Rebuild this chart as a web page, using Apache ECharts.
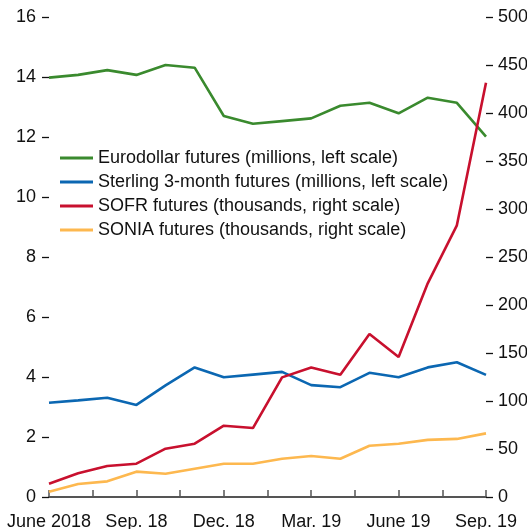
<!DOCTYPE html>
<html>
<head>
<meta charset="utf-8">
<script src="https://cdn.jsdelivr.net/npm/echarts@6/dist/echarts.min.js"></script>
<style>
  html, body { margin: 0; padding: 0; background: #fff; }
  #chart { width: 527px; height: 529px; }
</style>
</head>
<body>
<div id="chart"></div>
<script>
// Monthly observations, June 2018 – Sep. 2019
const months = ['2018-06','2018-07','2018-08','2018-09','2018-10','2018-11','2018-12',
                '2019-01','2019-02','2019-03','2019-04','2019-05','2019-06','2019-07','2019-08','2019-09'];
const tickLabels = ['June 2018', 'Sep. 18', 'Dec. 18', 'Mar. 19', 'June 19', 'Sep. 19'];

// Left scale (millions)
const eurodollar = [13.98, 14.07, 14.23, 14.07, 14.40, 14.31, 12.70, 12.44, 12.53, 12.62, 13.04, 13.14, 12.79, 13.31, 13.14, 12.01];
const sterling   = [3.14, 3.22, 3.31, 3.07, 3.72, 4.32, 3.99, 4.08, 4.17, 3.73, 3.66, 4.14, 3.99, 4.32, 4.49, 4.07];
// Right scale (thousands)
const sofr  = [13.8, 24.7, 32.3, 34.7, 50.3, 55.5, 74.3, 71.8, 124.6, 135.0, 127.4, 169.8, 145.8, 222.6, 283.0, 431.6];
const sonia = [5.5, 13.5, 16.3, 26.4, 24.3, 29.5, 34.7, 34.7, 39.9, 42.7, 39.9, 53.4, 55.5, 59.5, 60.5, 66.3];

const FONT = '"Liberation Sans Narrow", "Arial Narrow", "Liberation Sans", Arial, sans-serif';
const FS = 18;
const pairs = arr => arr.map((v, i) => [i, v]);

const chart = echarts.init(document.getElementById('chart'), null, { renderer: 'canvas' });

function line(name, data, color, yAxisIndex) {
  return {
    name, type: 'line', yAxisIndex, data: pairs(data),
    showSymbol: false, symbol: 'none',
    lineStyle: { color, width: 2.6 },
    itemStyle: { color },
    emphasis: { disabled: true },
    animation: false
  };
}

chart.setOption({
  animation: false,
  textStyle: { fontFamily: FONT },
  grid: { left: 49, right: 41, top: 17, bottom: 32, containLabel: false, outerBoundsMode: 'none' },
  legend: {
    orient: 'vertical',
    left: 55, top: 144,
    icon: 'rect', itemWidth: 33, itemHeight: 3, itemGap: 6,
    textStyle: { fontFamily: FONT, fontSize: FS, color: '#111', lineHeight: 18 },
    data: ['Eurodollar futures (millions, left scale)',
           'Sterling 3-month futures (millions, left scale)',
           'SOFR futures (thousands, right scale)',
           'SONIA futures (thousands, right scale)']
  },
  xAxis: {
    type: 'value', min: 0, max: 15, interval: 1.5,
    axisLine: { show: true, lineStyle: { color: '#555', width: 2 } },
    axisTick: { show: true, inside: true, length: 7, lineStyle: { color: '#555', width: 1.5 } },
    splitLine: { show: false },
    axisLabel: {
      fontFamily: FONT, fontSize: FS, color: '#111', margin: 16,
      showMinLabel: true, showMaxLabel: true,
      formatter: v => {
        const k = v / 3;
        return Math.abs(k - Math.round(k)) < 1e-6 ? tickLabels[Math.round(k)] : '';
      }
    }
  },
  yAxis: [
    {
      type: 'value', min: 0, max: 16, interval: 2, position: 'left',
      axisLine: { show: false },
      axisTick: { show: true, length: 7, lineStyle: { color: '#111', width: 1.3 } },
      splitLine: { show: false },
      axisLabel: { fontFamily: FONT, fontSize: FS, color: '#111', margin: 13 }
    },
    {
      type: 'value', min: 0, max: 500, interval: 50, position: 'right',
      axisLine: { show: false },
      axisTick: { show: true, length: 7, lineStyle: { color: '#111', width: 1.3 } },
      splitLine: { show: false },
      axisLabel: { fontFamily: FONT, fontSize: FS, color: '#111', margin: 12 }
    }
  ],
  series: [
    line('Eurodollar futures (millions, left scale)', eurodollar, '#3a8a2e', 0),
    line('Sterling 3-month futures (millions, left scale)', sterling, '#0b67b2', 0),
    line('SOFR futures (thousands, right scale)', sofr, '#c8102e', 1),
    line('SONIA futures (thousands, right scale)', sonia, '#fdb84f', 1)
  ]
});
</script>
</body>
</html>
